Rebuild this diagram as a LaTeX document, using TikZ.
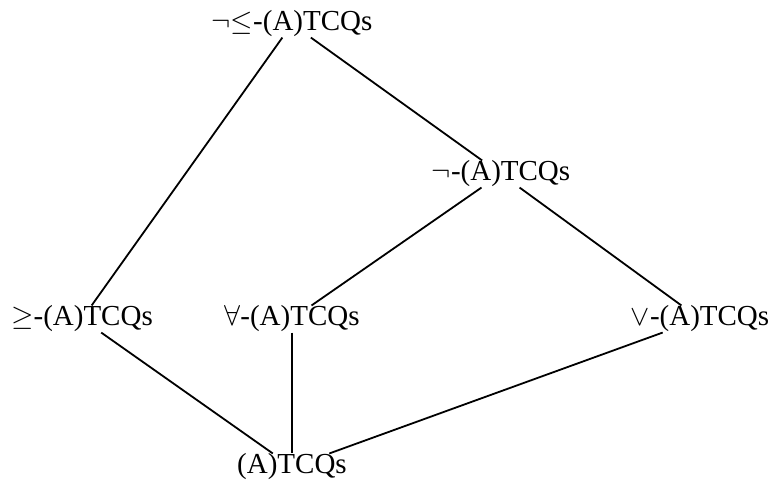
\documentclass[tikz,border=0pt]{standalone}
\usepackage{fontspec}
\setmainfont{Liberation Serif}
\begin{document}
\begin{tikzpicture}[x=0.5pt,y=-0.5pt,
  lbl/.style={inner sep=0pt,font=\fontsize{14.5}{17}\selectfont},
  conn/.style={line width=0.9pt}]
\useasboundingbox (0,0) rectangle (771,484);
\node[lbl] (top) at (292,24) {$\neg\mathord{\leq}$-(A)TCQs};
\node[lbl] (neg) at (501,174) {$\neg$-(A)TCQs};
\node[lbl] (geq) at (82,319) {$\geq$-(A)TCQs};
\node[lbl] (all) at (292,319) {$\forall$-(A)TCQs};
\node[lbl] (vee) at (700,319) {$\vee$-(A)TCQs};
\node[lbl] (base) at (292,467) {(A)TCQs};
\draw[conn] (top) -- (geq);
\draw[conn] (top) -- (neg);
\draw[conn] (neg) -- (all);
\draw[conn] (neg) -- (vee);
\draw[conn] (geq) -- (base);
\draw[conn] (all) -- (base);
\draw[conn] (vee) -- (base);
\end{tikzpicture}
\end{document}
